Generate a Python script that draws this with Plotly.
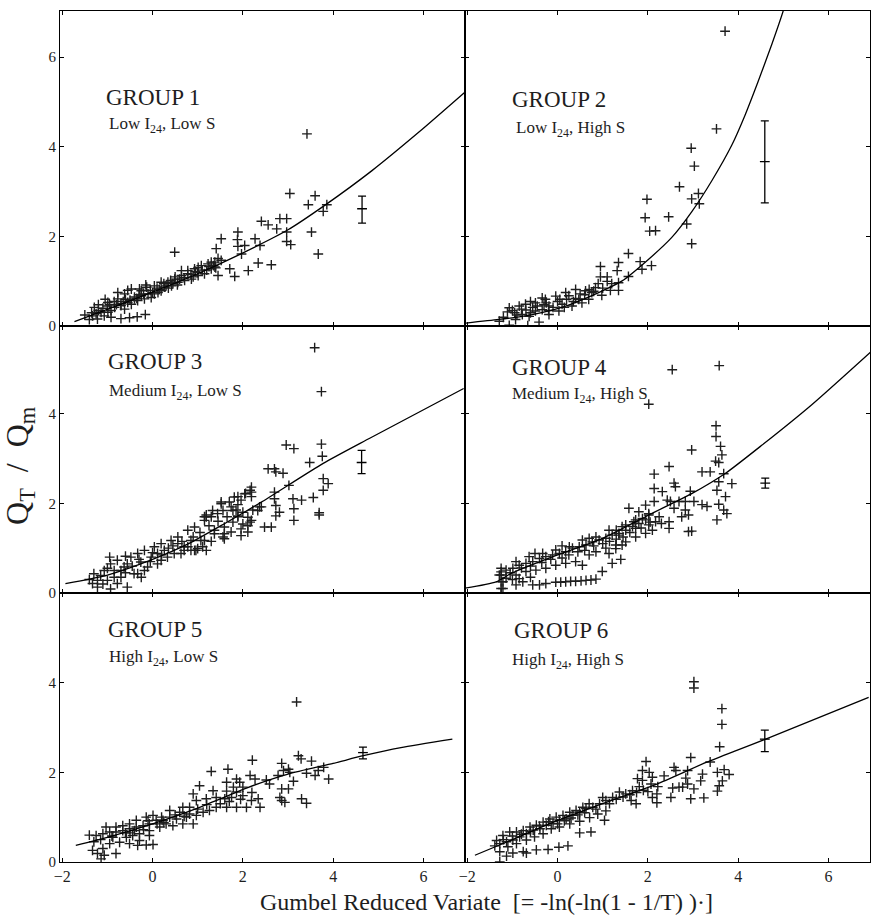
import plotly.graph_objects as go
from plotly.subplots import make_subplots

FONT = "Liberation Serif"
INK = "#1e1e1e"

# ---------------- axes ----------------
x_range = [-2.05, 6.92]
y_ranges = [[0, 7.03], [0, 5.95], [0, 6.0]]   # rows: top, middle, bottom
x_ticks = [-2, 0, 2, 4, 6]
y_ticks_rows = [[0, 2, 4, 6], [0, 2, 4], [0, 2, 4]]

group_titles = ["GROUP 1", "GROUP 2", "GROUP 3", "GROUP 4", "GROUP 5", "GROUP 6"]
group_subtitles = ["Low I<sub>24</sub>, Low S", "Low I<sub>24</sub>, High S",
                   "Medium I<sub>24</sub>, Low S", "Medium I<sub>24</sub>, High S",
                   "High I<sub>24</sub>, Low S", "High I<sub>24</sub>, High S"]
title_pos = [(-1.08, 5.11), (-1.06, 5.06), (-1.04, 5.16), (-1.06, 5.04), (-1.04, 5.18), (-1.02, 5.16)]
subtitle_pos = [(-1.0, 4.48), (-0.97, 4.40), (-1.02, 4.49), (-1.06, 4.42), (-1.02, 4.56), (-1.06, 4.49)]

# ---------------- fitted growth curves ----------------
curve1_x = [-1.73, -0.99, 0.0, 1.0, 1.97, 3.0, 3.82, 4.86, 5.90, 6.93]
curve1_y = [0.10, 0.38, 0.76, 1.17, 1.62, 2.15, 2.70, 3.47, 4.33, 5.23]
curve2_x = [-2.03, -1.30, -0.56, 0.18, 0.91, 1.43, 1.98, 2.53, 2.97, 3.42, 3.86, 4.15, 4.44, 4.75, 5.0, 5.08]
curve2_y = [0.07, 0.15, 0.26, 0.45, 0.75, 1.01, 1.46, 1.98, 2.55, 3.25, 4.04, 4.70, 5.45, 6.30, 7.04, 7.35]
curve3_x = [-1.93, -1.0, 0.0, 0.8, 1.6, 2.4, 3.78, 4.81, 6.89]
curve3_y = [0.21, 0.40, 0.75, 1.10, 1.55, 2.02, 2.89, 3.45, 4.56]
curve4_x = [-2.10, -1.36, -1.0, 0.0, 1.0, 2.02, 2.98, 3.72, 4.53, 5.63, 6.95]
curve4_y = [0.10, 0.25, 0.45, 0.85, 1.22, 1.74, 2.22, 2.67, 3.30, 4.20, 5.39]
curve5_x = [-1.70, -1.0, 0.0, 1.0, 2.08, 3.0, 4.0, 4.67, 5.5, 6.64]
curve5_y = [0.37, 0.55, 0.85, 1.20, 1.65, 1.96, 2.20, 2.37, 2.55, 2.74]
curve6_x = [-1.83, -1.0, 0.0, 1.0, 2.25, 3.29, 3.94, 4.61, 6.89]
curve6_y = [0.15, 0.50, 0.93, 1.30, 1.76, 2.22, 2.48, 2.74, 3.67]

# ---------------- error bars at T = 100 yr ----------------
eb_x = [4.64, 4.59, 4.63, 4.60, 4.66, 4.59]
eb_mid = [2.62, 3.67, 2.91, 2.45, 2.44, 2.74]
eb_hi = [2.90, 4.58, 3.18, 2.56, 2.56, 2.94]
eb_lo = [2.30, 2.75, 2.66, 2.34, 2.30, 2.46]

# ---------------- observed points (Gumbel variate, QT/Qm) ----------------
g1_pts = [
    (3.42, 4.29), (3.04, 2.96), (3.60, 2.91), (3.45, 2.71), (3.86, 2.71), (3.78, 2.56), (3.52, 2.10),
    (3.67, 1.61), (2.41, 2.34), (2.56, 2.26), (2.82, 2.40), (2.97, 2.40), (2.75, 2.17), (2.97, 2.10),
    (2.97, 1.89), (3.06, 1.82), (1.89, 2.10), (1.88, 1.93), (2.27, 1.95), (1.52, 1.95), (1.89, 1.78),
    (2.04, 1.80), (2.38, 1.80), (1.97, 1.61), (2.34, 1.41), (2.63, 1.37), (2.12, 1.24), (1.82, 1.11),
    (1.71, 1.28), (0.49, 1.65), (1.41, 1.73),
    (-0.70, 0.17), (-0.51, 0.19), (-0.34, 0.21), (-0.16, 0.26), (-1.29, 0.42), (-0.99, 0.53),
    (-0.77, 0.61), (-0.62, 0.72), (-0.47, 0.83), (-0.29, 0.83), (-0.13, 0.87), (0.04, 0.90),
    (-0.55, 0.53), (-0.40, 0.61), (-0.25, 0.68), (-0.10, 0.72), (0.12, 0.75), (0.27, 0.87),
    (0.34, 0.98), (0.49, 1.05), (0.64, 1.13), (0.78, 1.17), (0.93, 1.28), (1.08, 1.35), (1.23, 1.39),
    (1.38, 1.43), (1.52, 1.47), (0.64, 1.24), (0.78, 1.24), (1.01, 1.31), (1.30, 1.28), (1.45, 1.13),
    (-1.14, 0.31), (-1.07, 0.23), (-0.92, 0.35), (-0.84, 0.42), (-0.70, 0.46), (-0.62, 0.38),
    (-0.47, 0.49), (-0.33, 0.57), (-0.18, 0.61), (-0.03, 0.64), (0.19, 0.79), (0.42, 0.90),
    (0.56, 0.98), (0.71, 1.02), (0.86, 1.05), (1.01, 1.13), (1.15, 1.17), (0.19, 0.98), (0.04, 0.72),
    (-0.25, 0.79), (-0.92, 0.20), (-1.22, 0.16), (-1.33, 0.23), (-0.77, 0.75), (-0.99, 0.31),
    (-1.50, 0.25), (-1.40, 0.15), (-1.20, 0.35), (-1.00, 0.45), (-0.85, 0.55), (-0.60, 0.60),
    (-0.30, 0.70), (-0.05, 0.80), (0.10, 0.85), (0.30, 0.90), (0.45, 0.95), (0.60, 1.05), (0.85, 1.15),
    (1.00, 1.20), (1.20, 1.25), (1.35, 1.35), (0.50, 1.10), (0.25, 0.95), (-0.40, 0.65), (-0.70, 0.50),
    (1.30, 1.43), (1.45, 1.51), (1.38, 1.32),
    (-1.35, 0.30), (-1.25, 0.28), (-1.10, 0.40), (-0.95, 0.48), (-0.80, 0.48), (-0.65, 0.55),
    (-0.50, 0.58), (-0.35, 0.62), (-0.20, 0.72), (0.00, 0.75), (0.15, 0.82), (0.35, 0.85), (0.55, 0.92),
    (0.70, 1.08), (0.90, 1.10), (1.10, 1.25), (1.25, 1.33), (1.40, 1.30), (0.95, 1.22), (0.40, 1.02),
    (-0.15, 0.92), (-0.55, 0.80), (-1.05, 0.60), (-1.20, 0.48),
]
g2_pts = [
    (3.71, 6.58), (3.52, 4.40), (2.96, 3.97), (3.03, 3.57), (2.70, 3.11), (1.98, 2.83), (1.94, 2.42),
    (2.46, 2.44), (2.97, 2.84), (3.12, 2.96), (3.14, 2.73), (2.86, 2.28), (2.97, 1.84), (2.04, 2.12),
    (2.17, 2.13),
    (1.57, 1.62), (0.95, 1.33), (1.35, 1.42), (1.83, 1.44), (1.87, 1.27), (2.08, 1.35), (0.95, 1.10),
    (1.10, 1.10), (1.32, 1.24), (1.35, 0.97), (1.35, 0.80), (1.57, 1.11), (1.17, 0.80), (0.84, 0.86),
    (0.98, 0.69), (0.69, 0.60), (0.54, 0.52), (0.40, 0.82), (0.62, 0.79), (0.18, 0.75), (-0.04, 0.67),
    (-0.27, 0.60), (-0.49, 0.52), (-0.71, 0.49), (-1.07, 0.41), (-1.11, 0.32), (-0.93, 0.15),
    (-0.63, 0.22), (-0.41, 0.09), (-0.66, 0.01), (-1.07, 0.02), (-1.29, 0.11), (-0.34, 0.37),
    (-0.19, 0.45), (0.10, 0.49), (0.32, 0.45), (0.47, 0.60), (0.03, 0.34), (-0.19, 0.26), (-0.49, 0.34),
    (-0.78, 0.26), (-0.34, 0.63), (0.76, 0.75),
    (-1.0, 0.35), (-0.8, 0.38), (-0.55, 0.42), (-0.3, 0.48), (0.0, 0.55), (0.2, 0.6), (0.4, 0.62),
    (0.6, 0.7), (0.8, 0.78), (1.0, 0.85), (1.2, 0.95), (-0.9, 0.25), (-0.6, 0.3), (-0.2, 0.35), (0.15, 0.42),
    (-1.2, 0.20), (-0.95, 0.30), (-0.70, 0.36), (-0.45, 0.45), (-0.25, 0.52), (0.05, 0.60), (0.25, 0.68),
    (0.50, 0.72), (0.70, 0.82), (0.90, 0.95), (1.10, 1.00), (-0.10, 0.42), (0.35, 0.55), (-0.85, 0.45),
    (-0.60, 0.55),
]
g3_pts = [
    (3.59, 5.47), (3.74, 4.49), (3.74, 3.32), (3.76, 3.05), (2.96, 3.30), (3.13, 3.22), (3.48, 2.91),
    (3.78, 2.55), (3.89, 2.44), (3.78, 2.29), (3.11, 2.10), (3.30, 2.07), (3.56, 2.13), (3.69, 1.79),
    (3.69, 1.74), (3.13, 1.88), (3.13, 1.62), (3.02, 2.40), (2.56, 2.77), (2.70, 2.77), (2.73, 2.70),
    (2.89, 2.67), (2.70, 2.25), (2.70, 2.10), (2.73, 1.95), (2.81, 1.80), (2.73, 1.72), (2.48, 1.47),
    (2.63, 1.47), (2.37, 1.92), (2.22, 1.85), (2.16, 2.29), (2.19, 2.15), (2.06, 2.22), (1.89, 2.15),
    (1.70, 2.03), (1.52, 2.03), (1.89, 1.97), (1.78, 1.84), (1.56, 1.84), (1.19, 1.70), (1.33, 1.84),
    (2.00, 1.80), (1.89, 1.72), (2.11, 1.69), (1.78, 1.58), (2.00, 1.54), (2.16, 1.58), (2.11, 1.50),
    (1.96, 1.43), (1.56, 1.25), (1.11, 1.03), (0.96, 0.95),
    (-1.30, 0.43), (-1.22, 0.28), (-1.07, 0.50), (-0.93, 0.65), (-0.78, 0.73), (-0.63, 0.58),
    (-0.48, 0.80), (-0.33, 0.88), (-0.18, 0.95), (0.04, 1.03), (0.19, 1.10), (0.41, 1.17), (0.56, 1.25),
    (0.78, 1.40), (0.93, 1.47), (1.15, 1.62), (1.30, 1.70), (1.44, 1.77), (1.52, 1.99), (1.74, 1.92),
    (1.89, 1.70), (1.59, 1.47), (1.37, 1.40), (1.15, 1.17), (0.93, 0.95), (0.70, 1.03),
    (-1.00, 0.28), (-0.70, 0.35), (-0.41, 0.43), (-0.11, 0.58), (0.19, 0.73), (0.48, 0.88), (0.78, 1.03),
    (1.07, 1.17), (1.37, 1.32), (1.59, 1.21), (-1.22, 0.13), (-0.93, 0.09), (-0.56, 0.13), (-0.78, 0.21),
    (-0.33, 0.43), (-0.18, 0.50), (0.11, 0.65), (0.33, 0.80), (0.63, 0.88), (0.85, 0.95), (1.00, 0.99),
    (1.19, 0.95), (0.85, 1.17), (0.56, 1.10), (0.26, 0.95), (-0.03, 0.80), (-0.26, 0.69), (-0.56, 0.65),
    (-0.85, 0.50), (-1.15, 0.39), (-1.33, 0.21), (-0.70, 0.50), (0.11, 0.88),
    (1.81, 2.14), (2.04, 2.21), (2.19, 2.36), (2.19, 2.25), (1.96, 2.07), (1.15, 1.70), (1.19, 1.74),
    (1.59, 1.32), (1.74, 1.36), (1.96, 1.28), (2.11, 1.36), (2.19, 1.62), (2.33, 1.84), (2.41, 1.92),
    (-1.40, 0.30), (-1.10, 0.20), (-1.00, 0.55), (-0.85, 0.35), (-0.60, 0.45), (-0.45, 0.60),
    (-0.30, 0.75), (-0.05, 0.70), (0.00, 0.90), (0.20, 0.85), (0.35, 1.00), (0.45, 1.05), (0.65, 1.15),
    (0.90, 1.25), (1.05, 1.35), (1.25, 1.50), (1.45, 1.60), (1.30, 1.15), (0.70, 0.95), (-0.25, 0.35),
    (-0.60, 0.82), (-0.95, 0.80), (1.65, 1.70), (1.85, 1.85),
]
g4_pts = [
    (2.54, 4.98), (3.58, 5.07), (2.02, 4.21), (3.51, 3.73), (3.51, 3.49), (3.61, 3.27), (3.64, 3.08),
    (3.50, 2.94), (3.57, 2.91), (2.97, 3.19), (2.47, 2.82), (2.14, 2.65), (2.14, 2.33), (2.32, 2.26),
    (2.14, 2.04), (2.58, 2.45), (2.61, 2.37), (2.94, 2.27), (3.20, 2.70), (3.38, 2.70), (3.68, 2.66),
    (3.86, 2.44), (3.57, 2.48), (3.53, 2.29), (3.72, 2.15), (3.57, 1.98), (3.68, 1.85), (3.75, 1.77),
    (3.53, 1.63), (3.02, 2.04), (3.20, 1.97), (3.31, 1.93), (2.43, 2.07), (2.50, 2.04), (2.69, 2.04),
    (2.83, 2.04), (2.58, 1.89), (2.83, 1.85), (2.90, 1.74), (2.75, 1.70), (2.47, 1.44), (2.47, 1.59),
    (2.90, 1.37), (2.97, 1.38), (1.58, 1.89), (1.80, 1.81), (1.95, 1.96), (2.02, 1.77), (2.17, 1.59),
    (2.02, 1.52), (1.88, 1.66), (1.69, 1.59), (1.51, 1.52), (1.73, 1.44), (1.36, 1.29), (1.43, 1.07),
    (1.29, 0.99), (1.14, 0.88), (0.99, 0.48), (1.21, 0.66), (1.40, 0.75),
    (-0.55, 0.18), (-0.26, 0.21), (-0.04, 0.24), (0.18, 0.25), (0.40, 0.26), (0.63, 0.28), (0.85, 0.31),
    (-0.77, 0.25), (-0.40, 0.18), (-0.92, 0.18), (-1.21, 0.10), (-1.21, 0.25), (-1.25, 0.47),
    (0.07, 0.24), (0.29, 0.26), (0.52, 0.27), (0.74, 0.29),
    (-1.25, 0.55), (-1.25, 0.40), (-1.25, 0.25), (-1.25, 0.10), (-1.25, 0.0),
    (-1.29, 0.40), (-1.14, 0.51), (-0.99, 0.55), (-0.85, 0.62), (-0.70, 0.66), (-0.55, 0.70),
    (-0.40, 0.77), (-0.26, 0.81), (-0.11, 0.85), (0.04, 0.88), (0.18, 0.92), (0.33, 1.00), (0.48, 1.03),
    (0.63, 1.07), (0.77, 1.14), (0.92, 1.18), (1.07, 1.22), (1.21, 1.29), (1.36, 1.33), (1.51, 1.40),
    (1.66, 1.48), (1.80, 1.55), (1.95, 1.63),
    (-1.14, 0.33), (-0.92, 0.40), (-0.70, 0.48), (-0.48, 0.51), (-0.26, 0.55), (-0.04, 0.62),
    (0.18, 0.66), (0.40, 0.70), (0.55, 0.62), (0.70, 0.85), (0.85, 0.92), (1.07, 1.00), (1.29, 1.07),
    (1.51, 1.14), (1.73, 1.25), (1.95, 1.33), (2.10, 1.40),
    (-0.92, 0.70), (-0.63, 0.81), (-0.33, 0.88), (-0.04, 0.96), (0.26, 1.03), (0.55, 1.18), (0.85, 1.25),
    (1.14, 1.40), (1.43, 1.48), (1.73, 1.63), (2.02, 1.74),
    (-1.05, 0.45), (-0.80, 0.56), (-0.60, 0.60), (-0.35, 0.68), (-0.15, 0.75), (0.10, 0.78), (0.25, 0.85),
    (0.45, 0.92), (0.60, 0.95), (0.80, 1.05), (1.00, 1.10), (1.15, 1.15), (1.30, 1.20), (1.45, 1.25),
    (1.60, 1.35), (1.85, 1.45), (2.05, 1.58), (2.25, 1.70), (2.30, 1.55), (-0.50, 0.88), (0.10, 1.05),
    (0.70, 1.22), (1.30, 1.40), (-1.00, 0.30), (-0.85, 0.32), (-0.60, 0.35),
]
g5_pts = [
    (3.19, 3.57), (2.21, 2.27), (1.30, 2.02), (1.67, 2.07), (3.23, 2.37), (3.29, 2.30), (3.52, 2.25),
    (3.90, 1.85), (2.86, 2.20), (2.90, 2.04), (3.01, 2.07), (3.04, 2.00), (2.78, 1.93), (2.16, 1.93),
    (2.27, 1.85), (2.52, 1.83), (2.59, 1.74), (1.86, 1.85), (1.93, 1.78), (1.64, 1.78), (1.79, 1.67),
    (2.00, 1.67), (1.04, 1.70), (3.12, 1.80), (2.86, 1.63), (3.01, 1.63), (2.82, 1.44), (2.93, 1.33),
    (2.86, 1.37), (3.30, 1.41), (3.41, 1.31), (3.41, 1.98), (3.67, 2.04), (3.79, 2.11), (3.60, 1.93),
    (1.64, 1.58), (1.86, 1.56), (1.60, 1.41), (1.75, 1.44), (2.00, 1.48), (2.19, 1.37), (2.34, 1.41),
    (2.38, 1.22), (2.08, 1.22), (1.34, 1.59), (1.41, 1.44), (1.19, 1.41), (0.90, 1.52), (0.97, 1.37),
    (0.82, 1.22), (0.67, 1.22), (1.86, 1.22), (1.64, 1.22), (1.41, 1.22), (1.26, 1.15), (1.12, 1.11),
    (0.97, 1.04), (0.75, 1.00), (0.53, 0.96), (0.38, 1.00), (0.23, 0.93), (0.08, 0.93), (-0.07, 0.85),
    (-0.21, 0.81), (-0.36, 0.78), (-0.51, 0.74), (-0.66, 0.70), (-0.81, 0.67), (-0.95, 0.67),
    (-1.10, 0.63), (-1.25, 0.59), (0.38, 1.15), (0.60, 1.11), (0.82, 1.07), (0.01, 1.04), (-0.14, 1.00),
    (-0.36, 0.93), (-0.51, 0.85), (-0.66, 0.81), (-0.81, 0.78), (-1.03, 0.78), (0.90, 0.85), (0.67, 0.85),
    (0.45, 0.81), (0.30, 0.85), (0.16, 0.78), (-0.07, 0.70), (-0.29, 0.63), (-0.44, 0.59), (-0.58, 0.55),
    (-0.07, 0.59), (-0.29, 0.48), (-0.51, 0.41), (-0.33, 0.37), (-0.14, 0.38), (0.01, 0.39),
    (-1.33, 0.26), (-1.22, 0.19), (-1.10, 0.30), (-1.07, 0.15), (-1.14, 0.07), (-0.81, 0.19),
    (-0.88, 0.55), (-0.73, 0.44), (-0.95, 0.41), (-1.40, 0.60), (-1.30, 0.45),
    (-1.15, 0.50), (-0.90, 0.58), (-0.60, 0.65), (-0.40, 0.70), (-0.20, 0.72), (0.10, 0.85), (0.25, 0.88),
    (0.50, 1.05), (0.70, 1.02), (1.00, 1.18), (1.20, 1.28), (1.50, 1.30), (1.70, 1.35), (1.95, 1.40),
    (2.20, 1.55), (0.20, 1.00), (-0.10, 0.92), (-0.50, 0.65),
]
g6_pts = [
    (3.02, 4.02), (3.02, 3.88), (3.64, 3.42), (3.64, 3.07), (3.59, 2.57), (2.95, 2.33), (1.96, 2.24),
    (3.38, 2.23), (2.58, 2.11), (2.62, 2.04), (2.88, 2.04), (3.54, 2.00), (3.69, 2.06), (3.21, 1.96),
    (3.80, 1.95), (3.65, 1.81), (3.58, 1.70), (3.54, 1.58), (3.17, 1.81), (3.02, 1.63), (3.24, 1.43),
    (2.84, 1.87), (2.88, 1.74), (2.77, 1.67), (2.55, 1.65), (2.69, 1.67), (2.95, 1.41), (2.51, 1.44),
    (2.22, 1.68), (2.20, 1.32), (2.36, 1.92), (2.03, 2.00), (2.10, 1.89), (1.88, 2.04), (1.77, 1.86),
    (1.88, 1.82), (2.07, 1.74), (2.00, 1.57), (2.10, 1.44), (1.81, 1.68), (1.66, 1.59), (1.74, 1.30),
    (1.63, 1.37), (1.51, 1.52), (1.37, 1.56), (1.22, 1.44), (1.07, 1.37), (0.93, 1.30), (0.78, 1.22),
    (0.63, 1.19), (0.49, 1.11), (0.34, 1.04), (0.19, 0.96), (0.04, 0.93), (-0.10, 0.86), (-0.25, 0.82),
    (-0.39, 0.74), (-0.54, 0.71), (-0.69, 0.63), (-0.84, 0.56), (-0.99, 0.49), (-1.13, 0.45),
    (-1.28, 0.41), (1.00, 1.44), (0.56, 1.22), (0.41, 1.15), (0.27, 1.11), (0.12, 1.04), (-0.03, 1.00),
    (-0.17, 0.96), (-0.32, 0.89), (-0.47, 0.82), (-0.61, 0.78), (-0.76, 0.70), (-0.91, 0.67),
    (-1.06, 0.67), (-1.21, 0.59), (1.07, 1.14), (0.89, 1.07), (0.71, 0.99), (0.49, 0.91), (0.27, 0.85),
    (0.04, 0.78), (-0.14, 0.74), (-0.32, 0.63), (-0.51, 0.56), (-0.69, 0.49), (-0.91, 0.41),
    (-1.10, 0.34), (-1.28, 0.23), (-0.99, 0.20), (-0.76, 0.23), (-1.13, 0.13), (-0.69, 0.20),
    (0.49, 0.65), (0.74, 0.67), (-0.47, 0.27), (-0.21, 0.28), (0.03, 0.33), (0.23, 0.36), (1.04, 0.93),
    (-1.28, 0.00), (-1.35, 0.48), (-1.39, 0.36),
    (-1.20, 0.50), (-1.00, 0.58), (-0.80, 0.62), (-0.60, 0.68), (-0.40, 0.80), (-0.20, 0.90), (0.00, 0.85),
    (0.15, 0.92), (0.30, 0.98), (0.45, 1.05), (0.60, 1.10), (0.85, 1.18), (1.15, 1.30), (1.30, 1.40),
    (1.45, 1.45), (1.60, 1.50), (1.75, 1.55), (1.90, 1.60), (2.20, 1.52), (0.70, 1.30),
]

points = [g1_pts, g2_pts, g3_pts, g4_pts, g5_pts, g6_pts]
curves = [(curve1_x, curve1_y), (curve2_x, curve2_y), (curve3_x, curve3_y),
          (curve4_x, curve4_y), (curve5_x, curve5_y), (curve6_x, curve6_y)]

fig = make_subplots(rows=3, cols=2, row_heights=[7.03, 5.95, 6.0],
                    horizontal_spacing=0, vertical_spacing=0)

for g in range(6):
    row, col = g // 2 + 1, g % 2 + 1
    pts = points[g]
    fig.add_trace(go.Scatter(
        x=[p[0] for p in pts], y=[p[1] for p in pts], mode="markers",
        marker=dict(symbol="cross-thin", size=7, color=INK, line=dict(width=1.4, color=INK)),
        cliponaxis=True, hoverinfo="skip"), row=row, col=col)
    cx, cy = curves[g]
    fig.add_trace(go.Scatter(
        x=cx, y=cy, mode="lines", line=dict(color="black", width=1.3, shape="spline", smoothing=0.6),
        hoverinfo="skip"), row=row, col=col)
    fig.add_trace(go.Scatter(
        x=[eb_x[g]], y=[eb_mid[g]], mode="markers",
        marker=dict(symbol="line-ew", size=7, line=dict(width=1.3, color="black")),
        error_y=dict(type="data", symmetric=False, array=[eb_hi[g] - eb_mid[g]],
                     arrayminus=[eb_mid[g] - eb_lo[g]], width=4, thickness=1.3, color="black"),
        hoverinfo="skip"), row=row, col=col)

    suffix = "" if g == 0 else str(g + 1)
    fig.add_annotation(x=title_pos[g][0], y=title_pos[g][1], xref="x" + suffix, yref="y" + suffix,
                       text=group_titles[g], showarrow=False, xanchor="left", yanchor="middle",
                       font=dict(family=FONT, size=23, color=INK))
    fig.add_annotation(x=subtitle_pos[g][0], y=subtitle_pos[g][1], xref="x" + suffix, yref="y" + suffix,
                       text=group_subtitles[g], showarrow=False, xanchor="left", yanchor="middle",
                       font=dict(family=FONT, size=17, color=INK))

for g in range(6):
    row, col = g // 2 + 1, g % 2 + 1
    fig.update_xaxes(range=x_range, tickvals=x_ticks, showgrid=False, zeroline=False,
                     showline=True, linecolor="black", linewidth=1.1, mirror="allticks",
                     ticks="inside", ticklen=4, tickcolor="black", tickwidth=1.1,
                     showticklabels=(row == 3),
                     tickfont=dict(family=FONT, size=16, color=INK), row=row, col=col)
    fig.update_yaxes(range=y_ranges[row - 1], tickvals=y_ticks_rows[row - 1], showgrid=False,
                     zeroline=False, showline=True, linecolor="black", linewidth=1.1, mirror="allticks",
                     ticks="inside", ticklen=4, tickcolor="black", tickwidth=1.1,
                     showticklabels=(col == 1),
                     tickfont=dict(family=FONT, size=15, color=INK), row=row, col=col)

fig.add_annotation(xref="paper", yref="paper", x=-0.05, y=0.466, textangle=-90,
                   text="Q<sub>T</sub>\u00a0\u00a0/\u00a0\u00a0Q<sub>m</sub>", showarrow=False,
                   xanchor="center", yanchor="middle", font=dict(family=FONT, size=32, color=INK))
fig.add_annotation(xref="paper", yref="paper", x=0.527, y=-0.047,
                   text="Gumbel Reduced Variate\u00a0\u00a0[= -ln(-ln(1 - 1/T) )\u00b7]", showarrow=False,
                   xanchor="center", yanchor="middle", font=dict(family=FONT, size=24, color=INK))

fig.update_layout(width=871, height=915, margin=dict(l=60, r=1, t=11, b=53),
                  paper_bgcolor="white", plot_bgcolor="white", showlegend=False)

fig.write_html("out.html")
